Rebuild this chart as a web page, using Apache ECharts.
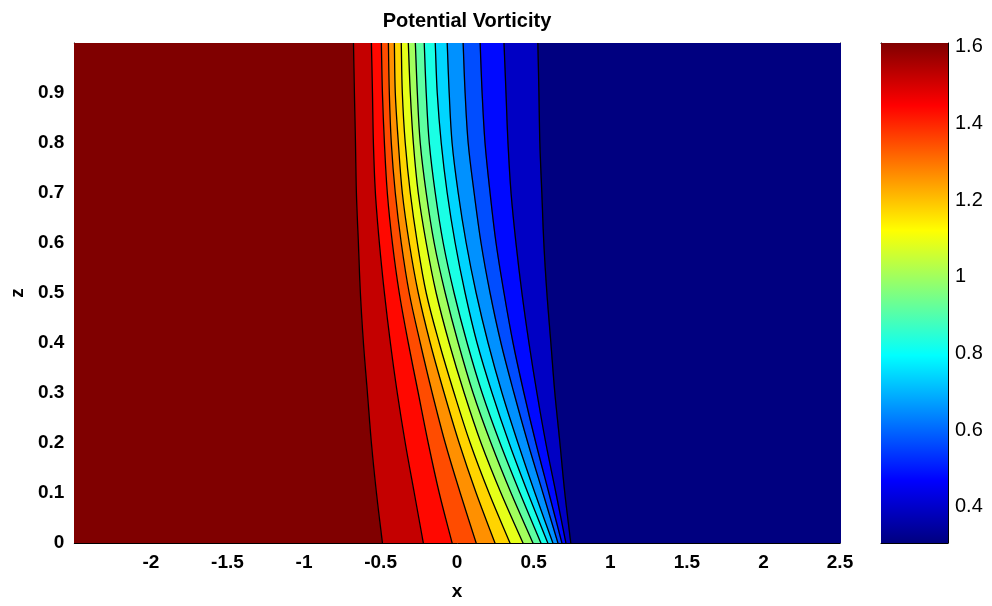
<!DOCTYPE html>
<html>
<head>
<meta charset="utf-8">
<script src="https://cdn.jsdelivr.net/npm/echarts@6/dist/echarts.min.js"></script>
<style>
  html, body { margin: 0; padding: 0; background: #ffffff; }
  #chart { width: 992px; height: 606px; }
</style>
</head>
<body>
<div id="chart"></div>
<script>
// Heights z at which every contour line is sampled
const zLevels = [0, 0.1, 0.2, 0.3, 0.4, 0.5, 0.6, 0.7, 0.8, 0.9, 1.0];

// x position of each contour line at the heights above (left = high PV, right = low PV)
const contourX = [
  [-0.488, -0.527, -0.560, -0.586, -0.612, -0.632, -0.645, -0.658, -0.664, -0.671, -0.677],
  [-0.221, -0.280, -0.339, -0.391, -0.436, -0.475, -0.508, -0.534, -0.547, -0.553, -0.560],
  [-0.033, -0.117, -0.189, -0.254, -0.319, -0.378, -0.423, -0.456, -0.475, -0.488, -0.495],
  [ 0.124,  0.020, -0.078, -0.163, -0.241, -0.313, -0.365, -0.404, -0.430, -0.443, -0.449],
  [ 0.247,  0.124,  0.013, -0.085, -0.176, -0.254, -0.313, -0.358, -0.384, -0.404, -0.410],
  [ 0.345,  0.208,  0.085, -0.020, -0.117, -0.202, -0.260, -0.306, -0.339, -0.358, -0.365],
  [ 0.430,  0.286,  0.156,  0.046, -0.052, -0.137, -0.202, -0.254, -0.286, -0.306, -0.319],
  [ 0.495,  0.352,  0.221,  0.104,  0.007, -0.078, -0.150, -0.202, -0.241, -0.260, -0.273],
  [ 0.547,  0.410,  0.280,  0.163,  0.065, -0.020, -0.091, -0.143, -0.182, -0.202, -0.215],
  [ 0.592,  0.462,  0.339,  0.228,  0.130,  0.052, -0.013, -0.065, -0.104, -0.130, -0.143],
  [ 0.625,  0.508,  0.397,  0.293,  0.202,  0.124,  0.059,  0.007, -0.033, -0.052, -0.065],
  [ 0.658,  0.560,  0.462,  0.371,  0.286,  0.215,  0.156,  0.111,  0.072,  0.052,  0.039],
  [ 0.684,  0.599,  0.514,  0.436,  0.365,  0.306,  0.254,  0.215,  0.182,  0.163,  0.150],
  [ 0.710,  0.645,  0.579,  0.521,  0.469,  0.423,  0.384,  0.352,  0.332,  0.319,  0.306],
  [ 0.742,  0.703,  0.671,  0.638,  0.612,  0.586,  0.566,  0.553,  0.540,  0.534,  0.527]
];

// PV value of each filled band, from the left edge to the right edge
const bandValues = [1.610, 1.523, 1.437, 1.350, 1.263, 1.176, 1.089, 1.002,
                     0.915, 0.828, 0.741, 0.654, 0.567, 0.480, 0.393, 0.306];

// Colour scale limits and colorbar ticks
const pvMin = 0.306;
const pvMax = 1.61;
const colorbarTicks = [0.4, 0.6, 0.8, 1.0, 1.2, 1.4, 1.6];

// Domain
const xMin = -2.5, xMax = 2.5;
const zMin = 0, zMax = 1;

// MATLAB-style jet colormap
function jet(t) {
  const c = v => Math.max(0, Math.min(1, v));
  const r = c(1.5 - Math.abs(4 * t - 3));
  const g = c(1.5 - Math.abs(4 * t - 2));
  const b = c(1.5 - Math.abs(4 * t - 1));
  return 'rgb(' + Math.round(r * 255) + ',' + Math.round(g * 255) + ',' + Math.round(b * 255) + ')';
}
const pvColor = v => jet((v - pvMin) / (pvMax - pvMin));

// Band boundaries: beyond-left edge, contour lines, beyond-right edge (clipped by the grid)
const leftEdge = zLevels.map(() => xMin - 0.5);
const rightEdge = zLevels.map(() => xMax + 0.5);
const edges = [leftEdge].concat(contourX, [rightEdge]);

// Curve smoothing shared by fills and contour lines so their edges coincide
const SMOOTH = 0.35;

// Pixel points of one boundary; the first and last segments are continued
// straight past the plot edges so the smoothing keeps their slope there
function boundaryPoints(api, row) {
  const n = row.length;
  const pts = row.map((x, i) => api.coord([x, zLevels[i]]));
  const ext = (a, b) => [a[0] + (a[0] - b[0]) * 2, a[1] + (a[1] - b[1]) * 2];
  return [ext(pts[0], pts[1])].concat(pts, [ext(pts[n - 1], pts[n - 2])]);
}

const font = 'Liberation Sans, Arial, Helvetica, sans-serif';

const chart = echarts.init(document.getElementById('chart'), null, { renderer: 'canvas' });

const frameAxis = { show: true, onZero: false, lineStyle: { color: '#000', width: 1 } };

chart.setOption({
  backgroundColor: '#ffffff',
  animation: false,
  title: {
    text: 'Potential Vorticity',
    left: 462,
    textAlign: 'center',
    top: 6,
    textStyle: { fontFamily: font, fontWeight: 'bold', fontSize: 20, color: '#000' }
  },
  grid: [
    { left: 72, right: 152, top: 43, bottom: 63 },
    { left: 881, right: 44, top: 43, bottom: 63 }
  ],
  xAxis: [
    {
      gridIndex: 0, type: 'value', min: xMin, max: xMax, interval: 0.5,
      name: 'x', nameLocation: 'middle', nameGap: 39,
      nameTextStyle: { fontFamily: font, fontWeight: 'bold', fontSize: 19, color: '#000' },
      axisLine: frameAxis,
      axisTick: { show: false },
      splitLine: { show: false },
      axisLabel: {
        fontFamily: font, fontWeight: 'bold', fontSize: 19, color: '#000', margin: 10,
        formatter: v => (v === xMin ? '' : String(v))
      }
    },
    {
      gridIndex: 0, type: 'value', min: xMin, max: xMax, position: 'top',
      axisLine: frameAxis, axisTick: { show: false }, axisLabel: { show: false }, splitLine: { show: false }
    },
    {
      gridIndex: 1, type: 'value', min: 0, max: 1, position: 'bottom',
      axisLine: frameAxis, axisTick: { show: false }, axisLabel: { show: false }, splitLine: { show: false }
    },
    {
      gridIndex: 1, type: 'value', min: 0, max: 1, position: 'top',
      axisLine: frameAxis, axisTick: { show: false }, axisLabel: { show: false }, splitLine: { show: false }
    }
  ],
  yAxis: [
    {
      gridIndex: 0, type: 'value', min: zMin, max: zMax, interval: 0.1,
      name: 'z', nameLocation: 'middle', nameGap: 45,
      nameTextStyle: { fontFamily: font, fontWeight: 'bold', fontSize: 19, color: '#000' },
      axisLine: frameAxis,
      axisTick: { show: false },
      splitLine: { show: false },
      axisLabel: {
        fontFamily: font, fontWeight: 'bold', fontSize: 19, color: '#000', margin: 10,
        formatter: v => (v === zMax ? '' : String(v))
      }
    },
    {
      gridIndex: 0, type: 'value', min: zMin, max: zMax, position: 'right',
      axisLine: frameAxis, axisTick: { show: false }, axisLabel: { show: false }, splitLine: { show: false }
    },
    {
      gridIndex: 1, type: 'value', min: pvMin, max: pvMax, position: 'right',
      axisLine: frameAxis,
      axisTick: { show: true, inside: true, length: 5, customValues: colorbarTicks, lineStyle: { color: '#000' } },
      splitLine: { show: false },
      axisLabel: {
        customValues: colorbarTicks,
        fontFamily: font, fontSize: 20, color: '#000', margin: 7,
        formatter: v => String(Math.round(v * 10) / 10)
      }
    },
    {
      gridIndex: 1, type: 'value', min: pvMin, max: pvMax, position: 'left',
      axisLine: frameAxis,
      axisTick: { show: true, inside: true, length: 5, customValues: colorbarTicks, lineStyle: { color: '#000' } },
      axisLabel: { show: false }, splitLine: { show: false }
    }
  ],
  series: [
    {
      // filled contour bands
      type: 'custom',
      xAxisIndex: 0, yAxisIndex: 0,
      silent: true,
      clip: true,
      data: bandValues.map((v, k) => [k, v]),
      renderItem: function (params, api) {
        const k = api.value(0);
        const left = boundaryPoints(api, edges[k]);
        const right = boundaryPoints(api, edges[k + 1]).reverse();
        const col = pvColor(api.value(1));
        return {
          type: 'polygon',
          shape: { points: left.concat(right), smooth: SMOOTH },
          style: { fill: col, stroke: col, lineWidth: 0.8 }
        };
      },
      z: 1
    },
    {
      // contour lines
      type: 'custom',
      xAxisIndex: 0, yAxisIndex: 0,
      silent: true,
      clip: true,
      data: contourX.map((row, k) => [k, 0]),
      renderItem: function (params, api) {
        const pts = boundaryPoints(api, contourX[api.value(0)]);
        return {
          type: 'polyline',
          shape: { points: pts, smooth: SMOOTH },
          style: { stroke: '#000', lineWidth: 1.3, fill: null }
        };
      },
      z: 2
    },
    {
      // colorbar
      type: 'custom',
      xAxisIndex: 2, yAxisIndex: 2,
      silent: true,
      data: [[0, pvMin]],
      renderItem: function (params, api) {
        const p0 = api.coord([0, pvMin]);
        const p1 = api.coord([1, pvMax]);
        const stops = [0, 0.125, 0.375, 0.625, 0.875, 1].map(t => ({ offset: 1 - t, color: jet(t) }));
        return {
          type: 'rect',
          shape: { x: p0[0], y: p1[1], width: p1[0] - p0[0], height: p0[1] - p1[1] },
          style: { fill: new echarts.graphic.LinearGradient(0, 0, 0, 1, stops) }
        };
      },
      z: 1
    }
  ]
});
</script>
</body>
</html>
